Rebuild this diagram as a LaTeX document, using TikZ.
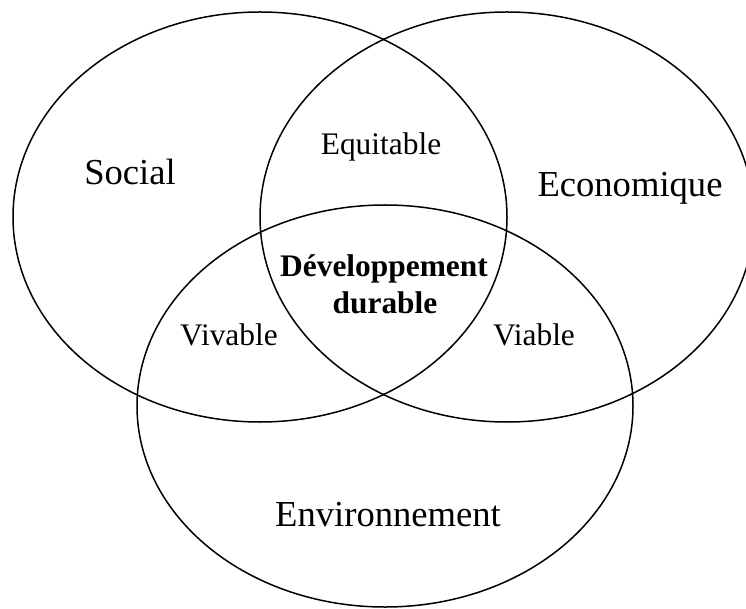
\documentclass[tikz,border=0pt]{standalone}
\usepackage{fontspec}
\setmainfont{Liberation Serif}
\usepackage{tikz}

\tikzset{
  big/.style={anchor=base,inner sep=0pt,font=\fontsize{36.6}{40}\selectfont},
  small/.style={anchor=base,inner sep=0pt,font=\fontsize{31.4}{36}\selectfont},
  core/.style={small,font=\fontsize{31.4}{36}\selectfont\bfseries},
}

\begin{document}
\begin{tikzpicture}[x=1pt,y=-1pt,line width=1.5pt]
\useasboundingbox (0,0) rectangle (746,609);
\draw (260,217) ellipse [x radius=247,y radius=205];
\draw (507,217) ellipse [x radius=247,y radius=205];
\draw (385,406) ellipse [x radius=248,y radius=201];
\node[big] (soc) at (130,185) {Social};
\node[big] (eco) at (630,197) {Economique};
\node[big] (env) at (388,526) {Environnement};
\node[small] (equ) at (381,155) {Equitable};
\node[small] (viv) at (229,345) {Vivable};
\node[small] (via) at (534,345) {Viable};
\node[core] (dev) at (384,277) {Développement};
\node[core] (dur) at (385,313) {durable};
\end{tikzpicture}
\end{document}
